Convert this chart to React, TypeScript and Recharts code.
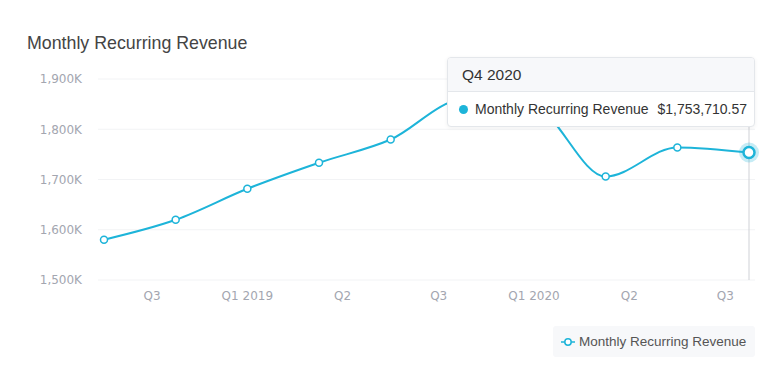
import React from "react";
import { LineChart, Line, XAxis, YAxis, CartesianGrid, Tooltip } from "recharts";

const quarters = ["Q3 2018", "Q4 2018", "Q1 2019", "Q2 2019", "Q3 2019", "Q4 2019", "Q1 2020", "Q2 2020", "Q3 2020", "Q4 2020"];
const mrr = [1580200, 1619800, 1681500, 1733400, 1779600, 1858000, 1845000, 1705800, 1763900, 1753710.57];
const tickPositions = [0.67, 2, 3.33, 4.67, 6, 7.33, 8.67];
const tickLabels = ["Q3", "Q1 2019", "Q2", "Q3", "Q1 2020", "Q2", "Q3"];
const yTicks = [1500000, 1600000, 1700000, 1800000, 1900000];

const data = quarters.map((q, i) => ({ idx: i, quarter: q, mrr: mrr[i] }));

const LINE = "#1db4d9";
const SANS = "'Liberation Sans', Arial, sans-serif";

const money = (v: number) =>
  "$" + v.toLocaleString("en-US", { minimumFractionDigits: 2, maximumFractionDigits: 2 });

function TipContent({ active, payload }: any) {
  if (!active || !payload || !payload.length) return null;
  const p = payload[0];
  return (
    <div
      style={{
        width: 306,
        background: "#fff",
        border: "1px solid #e4e7eb",
        borderRadius: 4,
        boxShadow: "0 1px 4px rgba(0,0,0,0.06)",
        fontFamily: SANS,
        color: "#333",
        overflow: "hidden",
      }}
    >
      <div style={{ background: "#f7f8fa", borderBottom: "1px solid #e4e7eb", height: 33, lineHeight: "33px", paddingLeft: 14, fontSize: 15.5 }}>
        {p.payload.quarter}
      </div>
      <div style={{ height: 34, display: "flex", alignItems: "center", paddingLeft: 11, fontSize: 14 }}>
        <span style={{ width: 9, height: 9, borderRadius: "50%", background: LINE, display: "inline-block", marginRight: 7 }} />
        <span>Monthly Recurring Revenue</span>
        <span style={{ marginLeft: 9 }}>{money(p.value)}</span>
      </div>
    </div>
  );
}

function ActiveDot(props: any) {
  const { cx, cy } = props;
  return (
    <g>
      <circle cx={cx} cy={cy} r={10} fill={LINE} fillOpacity={0.25} />
      <circle cx={cx} cy={cy} r={5.5} fill="#fff" stroke={LINE} strokeWidth={2.5} />
    </g>
  );
}

export default function App() {
  return (
    <div style={{ position: "absolute", left: 0, top: 0, width: 782, height: 368, background: "#fff" }}>
      <div style={{ position: "absolute", left: 27, top: 33, fontFamily: SANS, fontSize: 17.8, color: "#444" }}>
        Monthly Recurring Revenue
      </div>
      <LineChart width={782} height={368} data={data} margin={{ top: 79, right: 27, bottom: 58, left: 0 }}>
        <CartesianGrid vertical={false} stroke="#f2f3f5" />
        <XAxis
          dataKey="idx"
          type="number"
          domain={[0, 9]}
          padding={{ left: 6, right: 6 }}
          ticks={tickPositions}
          tickFormatter={(v: number) => tickLabels[tickPositions.indexOf(v)]}
          axisLine={false}
          tickLine={false}
          tickSize={0}
          tickMargin={11}
          height={30}
          interval={0}
          tick={{ fill: "#a3a6b0", fontSize: 12, fontFamily: "'DejaVu Sans', sans-serif" }}
        />
        <YAxis
          domain={[1500000, 1900000]}
          ticks={yTicks}
          tickFormatter={(v: number) => (v / 1000).toLocaleString("en-US") + "K"}
          axisLine={false}
          tickLine={false}
          tickSize={0}
          tickMargin={16}
          width={98}
          tick={{ fill: "#a3a6b0", fontSize: 12, fontFamily: "'DejaVu Sans', sans-serif" }}
        />
        <Tooltip
          active
          defaultIndex={9}
          content={<TipContent />}
          position={{ x: 447, y: 57 }}
          cursor={{ stroke: "#cfd1d6", strokeWidth: 1 }}
          isAnimationActive={false}
        />
        <Line
          type="monotone"
          dataKey="mrr"
          stroke={LINE}
          strokeWidth={2}
          dot={{ r: 3.5, fill: "#fff", stroke: LINE, strokeWidth: 1.5 }}
          activeDot={<ActiveDot />}
          isAnimationActive={false}
        />
      </LineChart>
      <div
        style={{
          position: "absolute",
          left: 553,
          top: 326,
          width: 202,
          height: 31,
          background: "#f7f8fa",
          borderRadius: 3,
          display: "flex",
          alignItems: "center",
          fontFamily: SANS,
          fontSize: 13.5,
          color: "#555",
        }}
      >
        <svg width={14} height={10} style={{ marginLeft: 8, marginRight: 4 }}>
          <line x1={0} y1={5} x2={14} y2={5} stroke={LINE} strokeWidth={1.5} />
          <circle cx={7} cy={5} r={3.2} fill="#fff" stroke={LINE} strokeWidth={1.5} />
        </svg>
        <span>Monthly Recurring Revenue</span>
      </div>
    </div>
  );
}
